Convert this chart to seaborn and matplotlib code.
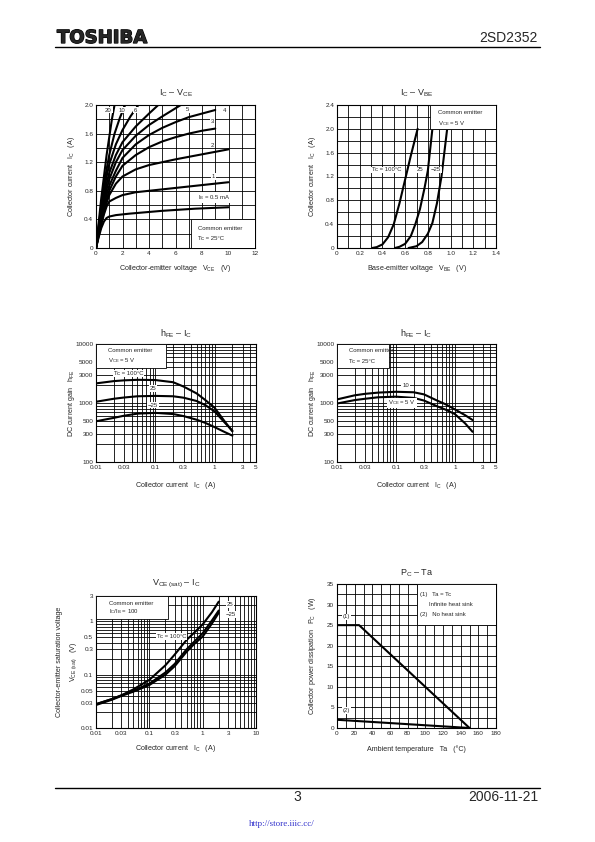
import matplotlib
matplotlib.use("Agg")
import matplotlib.pyplot as plt
import matplotlib.patheffects as pe
from matplotlib.patches import Rectangle
from matplotlib.lines import Line2D
from matplotlib.ticker import FixedLocator, FixedFormatter, LogLocator, NullFormatter
import numpy as np
import pandas as pd
import seaborn as sns

# ---- IC - VCE  (common emitter, Tc = 25 C), one curve per IB (mA)
vce_ib20 = [0, 0.2, 0.4, 0.6, 0.8, 1.0, 1.2, 1.4]
ic_ib20 = [0, 0.35, 0.7, 1.0, 1.3, 1.55, 1.8, 2.0]
vce_ib10 = [0, 0.2, 0.4, 0.6, 0.8, 1.0, 1.4, 1.8, 2.2]
ic_ib10 = [0, 0.3, 0.6, 0.88, 1.1, 1.3, 1.6, 1.82, 2.0]
vce_ib8 = [0, 0.2, 0.4, 0.6, 0.8, 1.0, 1.5, 2.0, 2.6, 3.2]
ic_ib8 = [0, 0.28, 0.55, 0.8, 1.0, 1.17, 1.45, 1.65, 1.84, 2.0]
vce_ib6 = [0, 0.2, 0.4, 0.6, 0.8, 1.0, 1.5, 2, 3, 4, 4.7]
ic_ib6 = [0, 0.26, 0.5, 0.72, 0.9, 1.05, 1.3, 1.48, 1.7, 1.88, 2.0]
vce_ib5 = [0, 0.2, 0.4, 0.6, 0.8, 1, 1.5, 2, 3, 4, 5, 6.4]
ic_ib5 = [0, 0.24, 0.46, 0.65, 0.82, 0.96, 1.2, 1.37, 1.57, 1.72, 1.84, 2.0]
vce_ib4 = [0, 0.2, 0.4, 0.6, 0.8, 1, 1.5, 2, 3, 4, 5, 6, 7, 8, 9]
ic_ib4 = [0, 0.22, 0.42, 0.6, 0.75, 0.87, 1.08, 1.26, 1.45, 1.58, 1.68, 1.76, 1.83, 1.88, 1.93]
vce_ib3 = [0, 0.2, 0.4, 0.6, 0.8, 1, 1.5, 2, 3, 4, 5, 6, 7, 8, 9]
ic_ib3 = [0, 0.2, 0.38, 0.54, 0.68, 0.8, 1.0, 1.15, 1.3, 1.41, 1.49, 1.55, 1.6, 1.64, 1.67]
vce_ib2 = [0, 0.2, 0.4, 0.6, 0.8, 1, 1.5, 2, 3, 4, 6, 8, 10]
ic_ib2 = [0, 0.18, 0.35, 0.5, 0.63, 0.74, 0.9, 1.0, 1.1, 1.16, 1.24, 1.31, 1.38]
vce_ib1 = [0, 0.2, 0.4, 0.6, 0.8, 1, 1.5, 2, 3, 4, 6, 8, 10]
ic_ib1 = [0, 0.17, 0.33, 0.47, 0.58, 0.65, 0.7, 0.74, 0.78, 0.8, 0.84, 0.88, 0.92]
vce_ib05 = [0, 0.2, 0.4, 0.6, 0.8, 1, 1.5, 2.5, 5, 7.5, 10]
ic_ib05 = [0, 0.15, 0.28, 0.37, 0.42, 0.44, 0.46, 0.48, 0.52, 0.55, 0.57]

# ---- IC - VBE  (VCE = 5 V)
vbe_tc100 = [0.31, 0.35, 0.4, 0.45, 0.5, 0.55, 0.6, 0.65, 0.71]
ic_tc100 = [0, 0.015, 0.06, 0.18, 0.4, 0.75, 1.15, 1.55, 2.0]
vbe_tc25 = [0.51, 0.55, 0.6, 0.65, 0.69, 0.73, 0.77, 0.8, 0.84]
ic_tc25 = [0, 0.02, 0.07, 0.2, 0.4, 0.65, 1.0, 1.3, 2.0]
vbe_tcm25 = [0.63, 0.7, 0.75, 0.8, 0.84, 0.88, 0.92, 0.97]
ic_tcm25 = [0, 0.03, 0.1, 0.24, 0.42, 0.75, 1.2, 2.0]

# ---- hFE - IC
ic_hfe = [0.01, 0.02, 0.03, 0.05, 0.1, 0.2, 0.3, 0.5, 0.7, 1, 1.5, 2]
hfe_tc100 = [2150, 2350, 2420, 2470, 2450, 2250, 1900, 1450, 1120, 830, 480, 330]
hfe_tc25 = [1050, 1180, 1240, 1300, 1320, 1300, 1230, 1080, 920, 720, 460, 340]
hfe_tcm25 = [490, 560, 610, 660, 680, 650, 600, 520, 460, 390, 320, 280]
hfe_vce10 = [1150, 1350, 1430, 1500, 1550, 1520, 1400, 1100, 950, 780, 620, 515]
hfe_vce5 = [980, 1120, 1180, 1250, 1280, 1220, 1100, 880, 770, 650, 450, 325]

# ---- VCE(sat) - IC  (IC/IB = 100)
ic_sat = [0.01, 0.02, 0.03, 0.05, 0.1, 0.2, 0.3, 0.5, 0.7, 1, 1.5, 2]
vsat_tc100 = [0.028, 0.035, 0.041, 0.053, 0.08, 0.15, 0.24, 0.45, 0.62, 0.88, 1.5, 2.35]
vsat_tc25 = [0.028, 0.035, 0.041, 0.05, 0.068, 0.11, 0.16, 0.3, 0.42, 0.6, 1.05, 1.6]
vsat_tcm25 = [0.027, 0.034, 0.04, 0.048, 0.064, 0.1, 0.145, 0.27, 0.38, 0.52, 0.92, 1.45]

# ---- PC - Ta
ta_inf = [0, 25, 150]
pc_inf = [25, 25, 0]
ta_none = [0, 150]
pc_none = [2.0, 0]

sns.set_style("white")
plt.rcParams["font.family"] = ["Liberation Sans", "DejaVu Sans"]
plt.rcParams["mathtext.fontset"] = "custom"
plt.rcParams["mathtext.rm"] = "Liberation Sans"
plt.rcParams["mathtext.it"] = "Liberation Sans:italic"
plt.rcParams["mathtext.bf"] = "Liberation Sans:bold"

W, H = 595, 842
fig = plt.figure(figsize=(W / 100, H / 100), dpi=100)
fig.patch.set_facecolor("white")

TICK_FS = 4.6
LAB_FS = 5.1
TXT_FS = 4.3
TITLE_FS = 6.5


def px_axes(x0, x1, y0, y1):
    return fig.add_axes([x0 / W, 1 - y1 / H, (x1 - x0) / W, (y1 - y0) / H])


def sub(s):
    return r"$_{\mathrm{" + s.replace(" ", r"\ ") + "}}$"


def draw_curves(ax, xs, ys):
    frames = [pd.DataFrame({"x": x, "y": y, "curve": i}) for i, (x, y) in enumerate(zip(xs, ys))]
    df = pd.concat(frames, ignore_index=True)
    sns.lineplot(data=df, x="x", y="y", units="curve", estimator=None, sort=False,
                 color="black", lw=1.5, ax=ax, legend=False, zorder=2)


def style(ax, title, xlabel, ylabel, title_y, xlab_y, ylab_x):
    ax.grid(which="both", color="black", lw=0.6)
    ax.set_axisbelow(True)
    ax.tick_params(which="both", length=0, labelsize=TICK_FS, pad=2)
    for s in ax.spines.values():
        s.set_color("black")
        s.set_linewidth(0.8)
    ax.set_xlabel(xlabel, fontsize=LAB_FS, va="center")
    ax.set_ylabel(ylabel, fontsize=LAB_FS, linespacing=1.8, va="center")
    ax.xaxis.set_label_coords(0.5, xlab_y)
    ax.yaxis.set_label_coords(ylab_x, 0.5)
    ax.text(0.5, title_y, title, transform=ax.transAxes, ha="center", va="center", fontsize=TITLE_FS)


def log_ticks(ax, xmaj, ymaj):
    ax.set_xscale("log")
    ax.set_yscale("log")
    ax.xaxis.set_major_locator(FixedLocator(xmaj))
    ax.xaxis.set_major_formatter(FixedFormatter([f"{v:g}" for v in xmaj]))
    ax.yaxis.set_major_locator(FixedLocator(ymaj))
    ax.yaxis.set_major_formatter(FixedFormatter([f"{v:g}" for v in ymaj]))
    for a in (ax.xaxis, ax.yaxis):
        a.set_minor_locator(LogLocator(base=10, subs=np.arange(1, 10)))
        a.set_minor_formatter(NullFormatter())


def box(ax, x0, y0, x1, y1):
    ax.add_patch(Rectangle((x0, y0), x1 - x0, y1 - y0, fc="white", ec="black", lw=0.6, zorder=3))


def label(ax, x, y, s, ha="center"):
    ax.text(x, y, s, fontsize=TXT_FS, ha=ha, va="center", zorder=4,
            bbox=dict(fc="white", ec="none", pad=0.6))


# ================= IC - VCE
ax1 = px_axes(96, 255, 105, 248)
draw_curves(ax1,
            [vce_ib20, vce_ib10, vce_ib8, vce_ib6, vce_ib5, vce_ib4, vce_ib3, vce_ib2, vce_ib1, vce_ib05],
            [ic_ib20, ic_ib10, ic_ib8, ic_ib6, ic_ib5, ic_ib4, ic_ib3, ic_ib2, ic_ib1, ic_ib05])
ax1.set_xlim(0, 12)
ax1.set_ylim(0, 2.0)
ax1.xaxis.set_major_locator(FixedLocator(np.arange(0, 13, 2)))
ax1.xaxis.set_minor_locator(FixedLocator(np.arange(0, 13, 1)))
ax1.yaxis.set_major_locator(FixedLocator([0, 0.4, 0.8, 1.2, 1.6, 2.0]))
ax1.yaxis.set_major_formatter(FixedFormatter(["0", "0.4", "0.8", "1.2", "1.6", "2.0"]))
ax1.yaxis.set_minor_locator(FixedLocator(np.arange(0, 2.01, 0.2)))
box(ax1, 7.2, 0, 12, 0.4)
ax1.text(7.7, 0.27, "Common emitter", fontsize=TXT_FS, va="center", zorder=4)
ax1.text(7.7, 0.13, "Tc = 25°C", fontsize=TXT_FS, va="center", zorder=4)
for s, x, y in [("20", 0.93, 1.93), ("10", 1.97, 1.93), ("6", 3.0, 1.93), ("5", 6.93, 1.94),
                ("4", 9.73, 1.92), ("3", 8.8, 1.77), ("2", 8.8, 1.44), ("1", 8.85, 1.0),
                ("I" + sub("B") + " = 0.5 mA", 8.9, 0.71)]:
    label(ax1, x, y, s)
style(ax1, "I" + sub("C") + " – V" + sub("CE"),
      "Collector-emitter voltage   V" + sub("CE") + "   (V)",
      "Collector current   I" + sub("C") + "   (A)", 1.084, -0.14, -0.151)

# ================= IC - VBE
ax2 = px_axes(337, 496, 105, 248)
draw_curves(ax2, [vbe_tc100, vbe_tc25, vbe_tcm25], [ic_tc100, ic_tc25, ic_tcm25])
ax2.set_xlim(0, 1.4)
ax2.set_ylim(0, 2.4)
ax2.xaxis.set_major_locator(FixedLocator([0, 0.2, 0.4, 0.6, 0.8, 1.0, 1.2, 1.4]))
ax2.xaxis.set_major_formatter(FixedFormatter(["0", "0.2", "0.4", "0.6", "0.8", "1.0", "1.2", "1.4"]))
ax2.xaxis.set_minor_locator(FixedLocator(np.arange(0, 1.41, 0.1)))
ax2.yaxis.set_major_locator(FixedLocator([0, 0.4, 0.8, 1.2, 1.6, 2.0, 2.4]))
ax2.yaxis.set_major_formatter(FixedFormatter(["0", "0.4", "0.8", "1.2", "1.6", "2.0", "2.4"]))
ax2.yaxis.set_minor_locator(FixedLocator(np.arange(0, 2.41, 0.2)))
box(ax2, 0.82, 2.0, 1.4, 2.4)
ax2.text(0.89, 2.28, "Common emitter", fontsize=TXT_FS, va="center", zorder=4)
ax2.text(0.89, 2.09, "V" + sub("CE") + " = 5 V", fontsize=TXT_FS, va="center", zorder=4)
label(ax2, 0.44, 1.31, "Tc = 100°C")
label(ax2, 0.73, 1.31, "25")
label(ax2, 0.87, 1.31, "−25")
style(ax2, "I" + sub("C") + " – V" + sub("BE"),
      "Base-emitter voltage   V" + sub("BE") + "   (V)",
      "Collector current   I" + sub("C") + "   (A)", 1.084, -0.14, -0.151)

# ================= hFE - IC (temperature)
hfe_xt = [0.01, 0.03, 0.1, 0.3, 1, 3, 5]
hfe_yt = [100, 300, 500, 1000, 3000, 5000, 10000]
ax3 = px_axes(96, 256, 344, 462)
log_ticks(ax3, hfe_xt, hfe_yt)
draw_curves(ax3, [ic_hfe, ic_hfe, ic_hfe], [hfe_tc100, hfe_tc25, hfe_tcm25])
ax3.set_xlim(0.01, 5)
ax3.set_ylim(100, 10000)
box(ax3, 0.01, 3850, 0.152, 10000)
ax3.text(0.016, 7900, "Common emitter", fontsize=TXT_FS, va="center", zorder=4)
ax3.text(0.016, 5150, "V" + sub("CE") + " = 5 V", fontsize=TXT_FS, va="center", zorder=4)
label(ax3, 0.035, 3150, "Tc = 100°C")
label(ax3, 0.092, 1770, "25")
label(ax3, 0.092, 920, "−25")
style(ax3, "h" + sub("FE") + " – I" + sub("C"),
      "Collector current   I" + sub("C") + "   (A)",
      "DC current gain   h" + sub("FE"), 1.085, -0.203, -0.151)

# ================= hFE - IC (VCE)
ax4 = px_axes(337, 496, 344, 462)
log_ticks(ax4, hfe_xt, hfe_yt)
draw_curves(ax4, [ic_hfe, ic_hfe], [hfe_vce10, hfe_vce5])
ax4.set_xlim(0.01, 5)
ax4.set_ylim(100, 10000)
box(ax4, 0.01, 3850, 0.075, 10000)
ax4.text(0.016, 7900, "Common emitter", fontsize=TXT_FS, va="center", zorder=4)
ax4.text(0.016, 5150, "Tc = 25°C", fontsize=TXT_FS, va="center", zorder=4)
label(ax4, 0.146, 2000, "10")
label(ax4, 0.128, 1000, "V" + sub("CE") + " = 5 V")
style(ax4, "h" + sub("FE") + " – I" + sub("C"),
      "Collector current   I" + sub("C") + "   (A)",
      "DC current gain   h" + sub("FE"), 1.085, -0.203, -0.151)

# ================= VCE(sat) - IC
ax5 = px_axes(96, 256, 596, 728)
log_ticks(ax5, [0.01, 0.03, 0.1, 0.3, 1, 3, 10], [0.01, 0.03, 0.05, 0.1, 0.3, 0.5, 1, 3])
draw_curves(ax5, [ic_sat, ic_sat, ic_sat], [vsat_tc100, vsat_tc25, vsat_tcm25])
ax5.set_xlim(0.01, 10)
ax5.set_ylim(0.01, 3)
box(ax5, 0.01, 1.1, 0.22, 3)
ax5.text(0.0172, 2.2, "Common emitter", fontsize=TXT_FS, va="center", zorder=4)
ax5.text(0.0172, 1.51, "I" + sub("C") + "/I" + sub("B") + " = 100", fontsize=TXT_FS, va="center", zorder=4)
label(ax5, 0.265, 0.52, "Tc = 100°C")
label(ax5, 3.3, 2.06, "25")
label(ax5, 3.3, 1.36, "−25")
style(ax5, "V" + sub("CE (sat)") + " – I" + sub("C"),
      "Collector current   I" + sub("C") + "   (A)",
      "Collector-emitter saturation voltage\nV" + sub("CE (sat)") + "   (V)", 1.091, -0.159, -0.178)

# ================= PC - Ta
ax6 = px_axes(337, 496, 584, 728)
draw_curves(ax6, [ta_inf, ta_none], [pc_inf, pc_none])
ax6.set_xlim(0, 180)
ax6.set_ylim(0, 35)
ax6.xaxis.set_major_locator(FixedLocator(np.arange(0, 181, 20)))
ax6.xaxis.set_minor_locator(FixedLocator(np.arange(0, 181, 10)))
ax6.yaxis.set_major_locator(FixedLocator(np.arange(0, 36, 5)))
ax6.yaxis.set_minor_locator(FixedLocator(np.arange(0, 35.1, 2.5)))
box(ax6, 90, 25, 180, 35)
ax6.text(94.5, 32.4, "(1)   Ta = Tc", fontsize=TXT_FS, va="center", zorder=4)
ax6.text(104.5, 30.0, "Infinite heat sink", fontsize=TXT_FS, va="center", zorder=4)
ax6.text(94.5, 27.5, "(2)   No heat sink", fontsize=TXT_FS, va="center", zorder=4)
label(ax6, 11, 27, "(1)")
label(ax6, 11, 4.2, "(2)")
style(ax6, "P" + sub("C") + " – Ta",
      "Ambient temperature   Ta   (°C)",
      "Collector power dissipation   P" + sub("C") + "   (W)", 1.076, -0.146, -0.151)

# ================= page header / footer
logo = fig.text(57 / W, 1 - 38 / H, "TOSHIBA", fontsize=13, fontweight="bold", va="center", ha="left",
                family="DejaVu Sans")
logo.set_path_effects([pe.withStroke(linewidth=0.9, foreground="black")])
fig.text(538 / W, 1 - 38 / H, "2SD2352", fontsize=10, va="center", ha="right")
fig.add_artist(Line2D([55 / W, 540 / W], [1 - 47 / H] * 2, color="black", lw=1.0))
fig.add_artist(Line2D([55 / W, 540 / W], [1 - 788 / H] * 2, color="black", lw=1.0))
fig.text(297 / W, 1 - 797 / H, "3", fontsize=10, va="center", ha="center")
fig.text(538 / W, 1 - 797 / H, "2006-11-21", fontsize=10, va="center", ha="right")
fig.text(282 / W, 1 - 824 / H, "http://store.iiic.cc/", fontsize=6.5, va="center", ha="center",
         color="#3333cc", family="Liberation Serif")

fig.savefig("out.png", dpi=100, facecolor="white")
